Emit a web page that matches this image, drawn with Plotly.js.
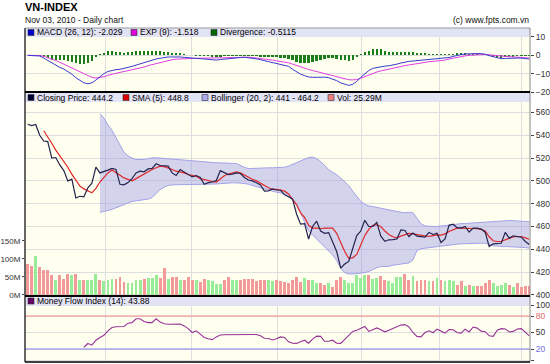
<!DOCTYPE html>
<html><head><meta charset="utf-8">
<script src="https://cdn.plot.ly/plotly-3.0.1.min.js"></script>
<style>html,body{margin:0;padding:0;background:#fff;}#chart{width:550px;height:364px;}</style>
</head><body><div id="chart"></div>
<script>
// ---------- DATA ----------
const closePrice = [549.7, 548.5, 549.5, 540, 535, 534.5, 520, 520.5, 514, 509,
 500, 501.5, 485, 486.5, 486, 494, 498, 512, 507, 508,
 509.5, 511, 510, 497, 496.5, 498.5, 502, 507, 508.5, 508,
 510.5, 511, 515, 513.5, 513, 513, 507, 504.7, 510, 508,
 506, 503.5, 504.7, 503, 497, 498.5, 499, 500.3, 509, 507,
 505.6, 506, 507, 506.5, 503, 500.8, 500, 498.3, 496.5, 491,
 491.3, 493, 492, 491.8, 488, 486, 484, 471, 462, 462.5,
 449, 460, 464.6, 456, 454, 454.6, 446, 438, 423.5, 427,
 429.3, 440, 452, 456, 465.4, 460, 460, 463.6, 451.5, 447,
 448.3, 448.5, 449, 457, 456.5, 451.2, 454.2, 451.5, 451, 450.6,
 454.8, 453, 454, 446, 449, 461, 462, 459, 458.6, 460,
 455, 458.6, 458.5, 457.7, 455, 442.4, 444.8, 445, 445.3, 454.8,
 449.8, 451.8, 451.5, 450.6, 446.8, 444.2];

const sma5 = [null, null, null, null, 544, 539, 533, 527, 522, 517.5,
 512, 506, 501, 495.5, 493, 491, 489.5, 493.5, 499, 503,
 507, 509.5, 507.5, 505, 502.6, 501, 500, 502, 504, 506.5,
 508.5, 510, 511.5, 513, 512.5, 511.5, 510, 508.5, 508, 507,
 505.6, 505, 504, 502, 501, 500, 499.5, 499, 501.5, 504.5,
 506, 507, 508, 507, 505, 503, 501.5, 500, 498, 495.5,
 494, 492.5, 492.6, 492, 491, 488.5, 484, 479, 472, 468,
 461, 458.6, 458.6, 458, 458.6, 458.6, 458.6, 454, 445.3, 438,
 432, 432.5, 435.5, 444, 452, 457.5, 461, 461.5, 460, 456,
 453, 451, 450, 451.5, 452.7, 454, 453.5, 453, 452, 451.5,
 451.2, 452, 452.7, 452.5, 453.5, 455.6, 457, 458.5, 458.6, 458.6,
 458.6, 458.3, 458, 457.5, 456, 451, 447.5, 446.8, 446.8, 448.3,
 449.8, 450.8, 451.2, 451.2, 450, 448.8];

const bollUpper = [null, null, null, null, null, null, null, null, null, null,
 null, null, null, null, null, null, null, null, 559, 555,
 549, 544.5, 538, 531, 525, 522, 520, 518.8, 518.5, 518.8,
 519.5, 520.3, 520.3, 520, 519.8, 519.4, 519, 518.5, 518, 517.8,
 517.5, 517.2, 517, 516.6, 516.4, 516.3, 516.2, 516, 516, 515.8,
 515.6, 515.4, 515.3, 513.5, 512, 510.8, 511, 511.5, 511.5, 511.5,
 511.5, 511.5, 511.5, 511.6, 512, 513, 514.5, 516, 517.4, 519,
 520.5, 521, 519.5, 517, 513.5, 510, 507.5, 505.5, 502.6, 499.5,
 496, 491, 486, 482, 479.5, 478, 477.5, 477, 476, 475.3,
 474.5, 473.5, 473, 472.5, 472, 472.5, 472, 467, 462.5, 460.5,
 460, 460, 460, 460.5, 461, 461.5, 462, 462.4, 462.5, 462.6,
 462.8, 463, 463, 463.4, 463.8, 464.2, 464.4, 464.6, 464.8, 465,
 465.3, 465, 464.8, 464.6, 464.4, 464.2];

const bollLower = [null, null, null, null, null, null, null, null, null, null,
 null, null, null, null, null, null, null, null, 472.4, 473,
 474, 475, 476.5, 478, 479.5, 481, 482, 482.5, 483, 483.5,
 484, 485.5, 489, 492.4, 494.5, 496, 496.5, 496.8, 496.8, 496.8,
 496.8, 496.8, 496.8, 496.8, 496.8, 496.8, 497, 497.3, 497.6, 498,
 498.3, 498.3, 498.3, 498.3, 497.8, 497, 496, 495, 493.8, 492.4,
 491.5, 490.6, 490, 489.5, 488, 486.5, 484.5, 480, 472, 463,
 456, 452.5, 449, 446, 442.5, 439, 435, 430, 423.3, 419.5,
 418.3, 418.3, 418.5, 418.9, 419.5, 420.5, 422.5, 423.8, 424.8, 424.8,
 425, 426, 426.5, 427.2, 427.7, 428, 430.6, 438.9, 440.5, 441,
 441.5, 442, 442.4, 442.8, 443.2, 443.6, 444, 444.5, 444.8, 445,
 445.2, 445.3, 445.3, 445.3, 445.3, 444.3, 443, 442.8, 442.6, 442.4,
 442.4, 442.4, 442.4, 442, 441.5, 441];

const volumeM = [85, 80, 108, 77, 68, 68, 56, 42, 54, 44,
 57, 54, 59, 41, 42, 40, 40, 57, 42, 38,
 40, 45, 45, 50, 37, 33, 33, 40, 42, 45,
 47, 47, 54, 47, 75, 44, 50, 50, 42, 42,
 50, 42, 40, 35, 45, 42, 38, 31, 31, 42,
 50, 41, 42, 42, 45, 45, 45, 38, 42, 42,
 42, 38, 42, 38, 35, 33, 40, 49, 35, 47,
 40, 40, 33, 33, 28, 33, 22, 41, 49, 40,
 33, 33, 54, 47, 54, 56, 44, 47, 52, 42,
 38, 33, 50, 50, 59, 42, 52, 38, 40, 40,
 38, 38, 47, 40, 38, 40, 38, 28, 38, 25,
 28, 25, 25, 25, 33, 42, 33, 25, 28, 33,
 28, 22, 33, 22, 25, 25.29];

const macd = [0, 0, -0.1, -0.4, -1.5, -2.8, -4.2, -5.5, -6.6, -7.5,
 -8.8, -10.3, -12.2, -13.8, -15, -15.5, -15, -13.5, -11.6, -10,
 -8.8, -8.1, -7.8, -7.6, -7.3, -6.6, -6, -5.3, -4.6, -3.9,
 -3.3, -2.7, -2, -1.6, -1.2, -0.9, -0.9, -0.8, -0.9, -1.1,
 -1.4, -1.5, -1.7, -1.8, -2, -2.3, -2.6, -2.6, -2.3, -2,
 -1.8, -1.6, -1.4, -1.2, -1.1, -1.3, -1.6, -1.9, -2.4, -2.9,
 -3.3, -3.7, -4.1, -4.6, -5.3, -6, -7.6, -9, -10.3, -11.1,
 -11.8, -12, -11.9, -11.8, -11.9, -12.2, -12.8, -13.8, -15, -15.8,
 -16.4, -15.8, -14.2, -12, -10, -8.3, -7.1, -6.6, -6.1, -5.9,
 -5.7, -5.4, -4.8, -4.2, -3.6, -3.3, -3.1, -2.9, -2.8, -2.7,
 -2.6, -2.4, -2.2, -2, -1.7, -1.2, -0.6, 0, 0.4, 0.7,
 0.9, 0.9, 1, 0.9, 0.6, -0.2, -0.7, -1.3, -1.8, -1.7,
 -1.5, -1.5, -1.5, -1.5, -1.8, -2.029];

const macdSignal = [0, 0, 0, -0.1, -0.5, -1.2, -1.9, -2.8, -3.8, -4.8,
 -5.9, -6.9, -7.9, -9.2, -10.2, -11.2, -12, -12.4, -12.2, -11.7,
 -10.9, -10.2, -9.8, -9.3, -8.8, -8.4, -8, -7.6, -7, -6.4,
 -5.6, -5, -4.4, -3.8, -3.2, -2.7, -2.4, -2.1, -1.9, -1.8,
 -1.7, -1.7, -1.6, -1.6, -1.6, -1.6, -1.5, -1.5, -1.5, -1.4,
 -1.3, -1.3, -1.2, -1.1, -0.9, -1, -1.2, -1.4, -1.7, -2,
 -2.3, -2.6, -3, -3.3, -3.6, -4.1, -4.8, -5.6, -6.3, -7.1,
 -7.7, -8.3, -8.9, -9.5, -10, -10.6, -11.2, -11.7, -12.3, -13,
 -13.3, -13.4, -13.2, -12.5, -11.6, -10.7, -9.8, -9.1, -8.5, -8.1,
 -7.7, -7.2, -6.6, -6.1, -5.6, -5.2, -4.8, -4.4, -4.1, -3.8,
 -3.5, -3.3, -3.1, -2.8, -2.6, -2, -1.5, -1, -0.6, -0.3,
 0, 0.2, 0.4, 0.5, 0.5, 0.3, 0, -0.2, -0.5, -0.6,
 -0.7, -0.8, -0.9, -1.1, -1.3, -1.518];

const macdDiv = [0, 0, 0, -0.3, -1, -1.6, -2.3, -2.7, -2.8, -2.7,
 -2.9, -3.4, -4.3, -4.6, -4.8, -4.3, -3, -1.1, 0.6, 1.2,
 2.1, 2.1, 2, 1.7, 1.5, 1.8, 2, 2.3, 2.4, 2.5,
 2.3, 2.3, 2.4, 2.2, 2, 1.8, 1.5, 1.3, 1, 0.7,
 0.3, 0.2, -0.1, -0.2, -0.4, -0.6, -0.9, -0.9, -0.7, -0.5,
 -0.4, -0.3, -0.2, -0.1, -0.2, -0.3, -0.4, -0.5, -0.7, -0.9,
 -1, -1.1, -1.1, -1.3, -1.7, -1.9, -2.8, -3.4, -4, -4,
 -4.1, -3.7, -3, -2.3, -1.9, -1.6, -1.6, -2.1, -2.7, -2.8,
 -3.1, -2.4, -1, 0.5, 1.6, 2.6, 3.3, 3.6, 3.2, 2.5,
 2, 1.8, 1.8, 1.9, 2, 1.9, 1.7, 1.5, 1.3, 1.1,
 0.9, 0.9, 0.9, 0.8, 0.9, 0.8, 0.9, 1, 1, 1,
 0.9, 0.7, 0.6, 0.4, 0.1, -0.5, -0.7, -1.1, -1.3, -1.1,
 -0.8, -0.7, -0.6, -0.4, -0.5, -0.5115];

const mfi = [null, null, null, null, null, null, null, null, null, null,
 null, null, null, null, 23, 30, 27, 36, 41, 45,
 53, 59, 60.5, 60.8, 61, 67, 68, 75, 75, 70,
 68, 68, 75, 69, 66, 65, 65.2, 65.4, 65.6, 62,
 57, 50, 53, 47, 41, 38.5, 37, 42, 45.5, 46,
 46.2, 46.4, 46.5, 46.6, 46.8, 47, 47, 46.5, 44, 39.5,
 39, 36.5, 38.5, 42, 41, 33, 30.5, 30.2, 33, 36,
 30.5, 38, 43.4, 43, 34, 34, 36, 30.5, 30.2, 38,
 46, 52, 54, 58, 61, 52, 55, 58.4, 55, 51.2,
 54, 57.5, 61, 63.5, 64.4, 60, 50, 43, 42, 50,
 53, 49.5, 56, 52, 49, 55.5, 55, 50, 49, 56,
 51, 60, 58, 52.5, 51.5, 44, 43, 54, 57, 56.5,
 51, 52, 56.5, 57, 50, 43.88];

// month-start positions (Jun, Jul, Aug, Sep, Oct, Nov) on the trading-day index axis
const monthStarts = [19.3, 40.8, 62.2, 83.2, 102.7, 123.1];

// ---------- CHART ----------
const idx = closePrice.map((_, i) => i);
const volColors = closePrice.map((c, i) => (i > 0 && c >= closePrice[i - 1]) ? '#98ec98' : '#f29a9a');

const FONT = '"Liberation Sans", Arial, sans-serif';
const L = 25, R = 530, T = 28, B = 362;
const px = p => (p - L) / (R - L);
const py = p => (B - p) / (B - T);
const tickFont = {family: FONT, size: 8.5, color: '#333'};

const traces = [
  {type: 'bar', x: idx, y: macdDiv, yaxis: 'y', marker: {color: '#1a7d1a'}, width: 0.6, hoverinfo: 'skip'},
  {type: 'scatter', mode: 'lines', x: idx, y: macdSignal, yaxis: 'y', line: {color: '#e23ee2', width: 1}},
  {type: 'scatter', mode: 'lines', x: idx, y: macd, yaxis: 'y', line: {color: '#3a3ad0', width: 1}},
  {type: 'bar', x: idx, y: volumeM, yaxis: 'y2', marker: {color: volColors}, width: 0.72},
  {type: 'scatter', mode: 'lines', x: idx, y: bollLower, yaxis: 'y4', line: {color: '#a2a2ea', width: 1}},
  {type: 'scatter', mode: 'lines', x: idx, y: bollUpper, yaxis: 'y4', line: {color: '#a2a2ea', width: 1},
   fill: 'tonexty', fillcolor: 'rgba(150,150,232,0.42)'},
  {type: 'scatter', mode: 'lines', x: idx, y: sma5, yaxis: 'y4', line: {color: '#e02828', width: 1.2}},
  {type: 'scatter', mode: 'lines', x: idx, y: closePrice, yaxis: 'y4', line: {color: '#23234d', width: 1.2}},
  {type: 'scatter', mode: 'lines', x: idx, y: mfi, yaxis: 'y3', line: {color: '#963396', width: 1.1}}
];

const bandFill = '#e3e3f6';
const shapes = [
  // legend bands
  {type: 'rect', xref: 'paper', yref: 'paper', x0: 0, x1: 1, y0: py(37), y1: py(28), fillcolor: bandFill, line: {width: 0}, layer: 'above'},
  {type: 'rect', xref: 'paper', yref: 'paper', x0: 0, x1: 1, y0: py(102), y1: py(92), fillcolor: bandFill, line: {width: 0}, layer: 'above'},
  {type: 'rect', xref: 'paper', yref: 'paper', x0: 0, x1: 1, y0: py(305.5), y1: py(296), fillcolor: bandFill, line: {width: 0}, layer: 'above'},
  // MFI thresholds
  {type: 'line', xref: 'paper', yref: 'y3', x0: 0, x1: 1, y0: 80, y1: 80, line: {color: '#ee8888', width: 1}},
  {type: 'line', xref: 'paper', yref: 'y3', x0: 0, x1: 1, y0: 20, y1: 20, line: {color: '#8080ee', width: 1}},
  // frame
  {type: 'line', xref: 'paper', yref: 'paper', x0: 0, x1: 0, y0: 0, y1: 1, line: {color: '#333', width: 1.5}, layer: 'above'},
  {type: 'line', xref: 'paper', yref: 'paper', x0: 1, x1: 1, y0: 0, y1: 1, line: {color: '#888', width: 1}, layer: 'above'},
  {type: 'line', xref: 'paper', yref: 'paper', x0: 0, x1: 1, y0: 1, y1: 1, line: {color: '#999', width: 1}, layer: 'above'},
  {type: 'line', xref: 'paper', yref: 'paper', x0: 0, x1: 1, y0: py(92), y1: py(92), line: {color: '#000', width: 2}, layer: 'above'},
  {type: 'line', xref: 'paper', yref: 'paper', x0: 0, x1: 1, y0: py(296), y1: py(296), line: {color: '#000', width: 2}, layer: 'above'},
  {type: 'line', xref: 'paper', yref: 'paper', x0: 0, x1: 1, y0: 0, y1: 0, line: {color: '#000', width: 1.5}, layer: 'above'}
];

const annotations = [];
function legendItem(xp, yc, color, text) {
  shapes.push({type: 'rect', xref: 'paper', yref: 'paper', x0: px(xp), x1: px(xp + 6), y0: py(yc + 3), y1: py(yc - 3),
    fillcolor: color, line: {color: '#333', width: 0.6}, layer: 'above'});
  annotations.push({xref: 'paper', yref: 'paper', x: px(xp + 8), y: py(yc), xanchor: 'left', yanchor: 'middle',
    text: text, showarrow: false, borderpad: 0, font: {family: FONT, size: 8.5, color: '#000'}});
}
legendItem(28, 32.5, '#0000cc', 'MACD (26, 12): -2.029');
legendItem(131, 32.5, '#dd00dd', 'EXP (9): -1.518');
legendItem(211, 32.5, '#006600', 'Divergence: -0.5115');
legendItem(28, 97.5, '#000033', 'Closing Price: 444.2');
legendItem(123, 97.5, '#dd0000', 'SMA (5): 448.8');
legendItem(202, 97.5, '#aaaaee', 'Bollinger (20, 2): 441 - 464.2');
legendItem(328, 97.5, '#f08080', 'Vol: 25.29M');
legendItem(28, 301, '#660066', 'Money Flow Index (14): 43.88');

annotations.push({xref: 'paper', yref: 'paper', x: px(23), y: py(7.5), xanchor: 'left', yanchor: 'middle', showarrow: false,
  text: '<b>VN-INDEX</b>', font: {family: FONT, size: 11, color: '#000'}});
annotations.push({xref: 'paper', yref: 'paper', x: px(23), y: py(20), xanchor: 'left', yanchor: 'middle', showarrow: false,
  text: 'Nov 03, 2010 - Daily chart', font: {family: FONT, size: 8.5, color: '#111'}});
annotations.push({xref: 'paper', yref: 'paper', x: px(531), y: py(20), xanchor: 'right', yanchor: 'middle', showarrow: false,
  text: '(c) www.fpts.com.vn', font: {family: FONT, size: 8.5, color: '#111'}});

const yCommon = {zeroline: false, ticks: 'outside', ticklen: 3, tickcolor: '#444', tickfont: tickFont,
  gridcolor: '#dedede', gridwidth: 1, fixedrange: true, showline: false};

const layout = {
  width: 550, height: 364,
  margin: {l: 25, r: 20, t: 28, b: 2, pad: 0},
  paper_bgcolor: '#ffffff', plot_bgcolor: '#fffff0',
  showlegend: false, barmode: 'overlay', bargap: 0,
  font: {family: FONT},
  xaxis: {range: [-0.67, 125.17], tickvals: monthStarts, showticklabels: false, ticks: '',
    showgrid: true, gridcolor: '#dedede', zeroline: false, showline: false, fixedrange: true},
  yaxis: Object.assign({}, yCommon, {domain: [py(92), 1], range: [-20, 14.9], side: 'right',
    tickvals: [-20, -10, 0, 10], showgrid: true}),
  yaxis2: Object.assign({}, yCommon, {domain: [py(296), py(92)], range: [-3.2, 564.5], side: 'left',
    tickvals: [0, 50, 100, 150], ticktext: ['0M', '50M', '100M', '150M'], showgrid: false,
    ticklen: 2, tickfont: {family: FONT, size: 8, color: '#333'}}),
  yaxis4: Object.assign({}, yCommon, {overlaying: 'y2', range: [399, 578], side: 'right',
    tickvals: [400, 420, 440, 460, 480, 500, 520, 540, 560], showgrid: true}),
  yaxis3: Object.assign({}, yCommon, {domain: [0, py(296)], range: [-3.64, 116.4], side: 'right',
    tickvals: [0, 20, 50, 80, 100],
    ticktext: ['0', '<span style="color:#7070e0">20</span>', '50', '<span style="color:#e06a6a">80</span>', '100'],
    showgrid: true}),
  shapes: shapes,
  annotations: annotations
};

Plotly.newPlot('chart', traces, layout, {displayModeBar: false, staticPlot: true});
</script>
</body></html>
